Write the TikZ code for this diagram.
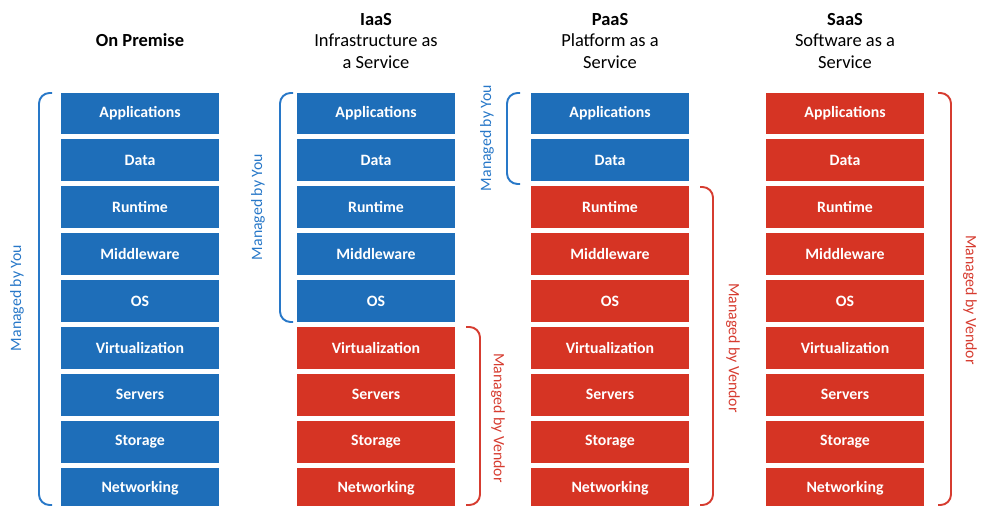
\documentclass[tikz,border=0pt]{standalone}
\usepackage{fontspec}
\setmainfont{Carlito}
\usepackage{xcolor}
\definecolor{youblue}{RGB}{30,110,185}
\definecolor{vendorred}{RGB}{214,52,36}
\definecolor{youtext}{RGB}{40,120,200}
\definecolor{vendortext}{RGB}{214,60,48}

\begin{document}
\begin{tikzpicture}[x=0.02cm,y=-0.02cm,
    you/.style={fill=youblue,text=white,minimum width=3.16cm,minimum height=0.84cm,inner sep=0pt,font=\fontsize{9}{10}\selectfont\bfseries},
    vendor/.style={you,fill=vendorred},
    head/.style={align=center,font=\fontsize{10.5}{12.5}\selectfont},
    youline/.style={draw=youtext,line width=1.1pt,rounded corners=6pt},
    vendorline/.style={draw=vendortext,line width=1.1pt,rounded corners=6pt},
    youlabel/.style={text=youtext,rotate=90,font=\fontsize{9}{10}\selectfont},
    vendorlabel/.style={text=vendortext,rotate=-90,font=\fontsize{9}{10}\selectfont}]

    \useasboundingbox (0,0) rectangle (990,506);
    \clip (0,0) rectangle (990,506);

    % headers
    \node[head] (OPTi) at (140,40) {\textbf{On Premise}};
    \node[head] (IaTi) at (376,41) {\textbf{IaaS}\\Infrastructure as\\a Service};
    \node[head] (PaTi) at (610,41) {\textbf{PaaS}\\Platform as a\\Service};
    \node[head] (SaTi) at (845,41) {\textbf{SaaS}\\Software as a\\Service};

    % On Premise
    \node[you] (OPAp) at (140,113.5) {Applications};
    \node[you] (OPDa) at (140,160.4) {Data};
    \node[you] (OPRu) at (140,207.3) {Runtime};
    \node[you] (OPMi) at (140,254.1) {Middleware};
    \node[you] (OPOS) at (140,301) {OS};
    \node[you] (OPVi) at (140,347.9) {Virtualization};
    \node[you] (OPSe) at (140,394.8) {Servers};
    \node[you] (OPSt) at (140,441.6) {Storage};
    \node[you] (OPNe) at (140,488.5) {Networking};

    % IaaS
    \node[you] (IaAp) at (376,113.5) {Applications};
    \node[you] (IaDa) at (376,160.4) {Data};
    \node[you] (IaRu) at (376,207.3) {Runtime};
    \node[you] (IaMi) at (376,254.1) {Middleware};
    \node[you] (IaOS) at (376,301) {OS};
    \node[vendor] (IaVi) at (376,347.9) {Virtualization};
    \node[vendor] (IaSe) at (376,394.8) {Servers};
    \node[vendor] (IaSt) at (376,441.6) {Storage};
    \node[vendor] (IaNe) at (376,488.5) {Networking};

    % PaaS
    \node[you] (PaAp) at (610,113.5) {Applications};
    \node[you] (PaDa) at (610,160.4) {Data};
    \node[vendor] (PaRu) at (610,207.3) {Runtime};
    \node[vendor] (PaMi) at (610,254.1) {Middleware};
    \node[vendor] (PaOS) at (610,301) {OS};
    \node[vendor] (PaVi) at (610,347.9) {Virtualization};
    \node[vendor] (PaSe) at (610,394.8) {Servers};
    \node[vendor] (PaSt) at (610,441.6) {Storage};
    \node[vendor] (PaNe) at (610,488.5) {Networking};

    % SaaS
    \node[vendor] (SaAp) at (845,113.5) {Applications};
    \node[vendor] (SaDa) at (845,160.4) {Data};
    \node[vendor] (SaRu) at (845,207.3) {Runtime};
    \node[vendor] (SaMi) at (845,254.1) {Middleware};
    \node[vendor] (SaOS) at (845,301) {OS};
    \node[vendor] (SaVi) at (845,347.9) {Virtualization};
    \node[vendor] (SaSe) at (845,394.8) {Servers};
    \node[vendor] (SaSt) at (845,441.6) {Storage};
    \node[vendor] (SaNe) at (845,488.5) {Networking};

    % brackets
    \draw[youline] (52,93) -- (39,93) -- (39,505) -- (52,505);
    \draw[youline] (293,93) -- (280,93) -- (280,322) -- (293,322);
    \draw[vendorline] (466,327) -- (480,327) -- (480,505) -- (466,505);
    \draw[youline] (520,93) -- (507,93) -- (507,184) -- (520,184);
    \draw[vendorline] (700,187) -- (713,187) -- (713,505) -- (700,505);
    \draw[vendorline] (938,93) -- (951,93) -- (951,505) -- (938,505);

    % bracket labels
    \node[youlabel] (OPYou) at (17,298) {Managed by You};
    \node[youlabel] (IaYou) at (258,207) {Managed by You};
    \node[vendorlabel] (IaVen) at (498,418) {Managed by Vendor};
    \node[youlabel] (PaYou) at (487,138) {Managed by You};
    \node[vendorlabel] (PaVen) at (733,348) {Managed by Vendor};
    \node[vendorlabel] (SaVen) at (970,300) {Managed by Vendor};

\end{tikzpicture}
\end{document}
